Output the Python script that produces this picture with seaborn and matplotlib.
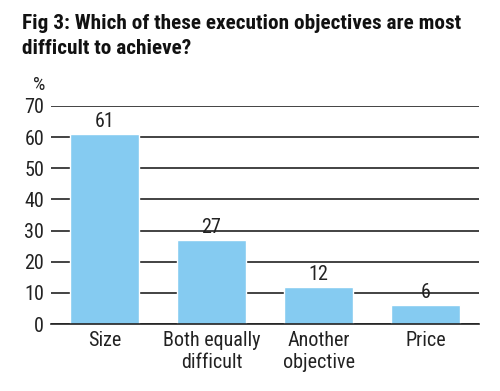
import matplotlib
matplotlib.use("Agg")
import matplotlib.pyplot as plt
from matplotlib import font_manager
import seaborn as sns
import pandas as pd

categories = ["Size", "Both equally\ndifficult", "Another\nobjective", "Price"]
values = [61, 27, 12, 6]
yticks = [0, 10, 20, 30, 40, 50, 60, 70]

sns.set_style("white")
names = {f.name for f in font_manager.fontManager.ttflist}
prefs = [n for n in ["Roboto Condensed", "Archivo Narrow", "PT Sans Narrow", "Liberation Sans Narrow"] if n in names]
plt.rcParams["font.family"] = prefs + ["Liberation Sans", "DejaVu Sans"]

df = pd.DataFrame({"cat": categories, "val": values})

fig = plt.figure(figsize=(5, 3.91), dpi=100)
ax = fig.add_axes([0.102, 0.171, 0.856, 0.558])
sns.barplot(data=df, x="cat", y="val", color="#85CBF1", saturation=1,
            width=0.64, ax=ax, zorder=2)

ax.set_xlim(-0.5, 3.5)
ax.set_ylim(0, 70)
ax.set_yticks(yticks)
ax.yaxis.grid(True, color="#222222", linewidth=1.2, zorder=0)
ax.set_axisbelow(True)
for s in ["top", "right", "left"]:
    ax.spines[s].set_visible(False)
ax.spines["bottom"].set_color("#222222")
ax.spines["bottom"].set_linewidth(1.2)
ax.tick_params(axis="y", length=0, labelsize=14.5, pad=5, colors="#222222")
ax.tick_params(axis="x", which="major", length=0, labelsize=14.5, pad=5, colors="#222222")
ax.set_xticks([-0.5, 0.5, 1.5, 2.5, 3.5], minor=True)
ax.tick_params(axis="x", which="minor", direction="in", length=5, width=1.2, color="#222222")
ax.set_xlabel("")
ax.set_ylabel("")
for lab in ax.get_xticklabels():
    lab.set_linespacing(1.2)

for i, v in enumerate(values):
    ax.text(i, v + 1.0, str(v), ha="center", va="bottom", fontsize=14.5, color="#222222", zorder=3)

line1 = "Fig 3: Which of these execution objectives are most"
t1 = fig.text(0.044, 0.963, line1, fontsize=14, fontweight="bold",
              ha="left", va="top", color="#111111")
fig.canvas.draw()
w = t1.get_window_extent().width
size = 14 * 441 / w
t1.set_fontsize(size)
fig.text(0.044, 0.963 - 25 / 391, "difficult to achieve?", fontsize=size, fontweight="bold",
         ha="left", va="top", color="#111111")
fig.text(0.066, 0.77, "%", fontsize=14, ha="left", va="baseline", color="#222222")

fig.savefig("out.png", dpi=100)
